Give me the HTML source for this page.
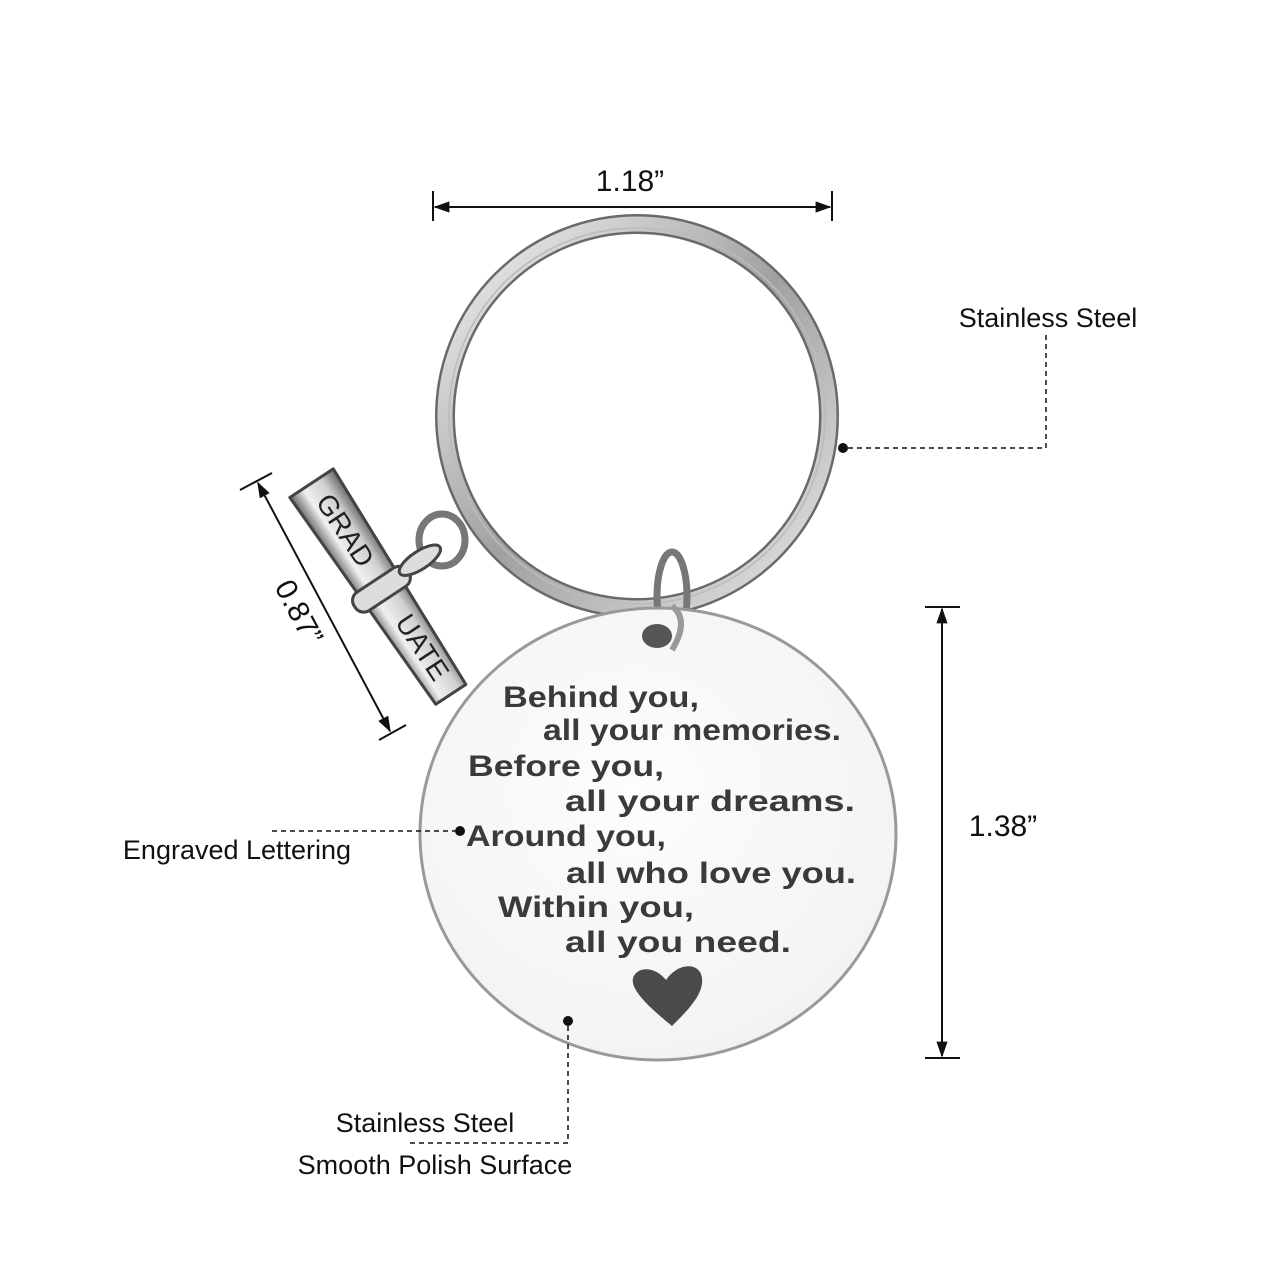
<!DOCTYPE html>
<html><head><meta charset="utf-8"><style>
html,body{margin:0;padding:0;background:#fff;}
svg{display:block;}
.lbl{font-family:"Liberation Sans",sans-serif;fill:#111;}
.eng{font-family:"Liberation Sans",sans-serif;font-weight:bold;fill:#3a3a3a;font-size:30px;}
</style></head><body>
<svg width="1280" height="1280" viewBox="0 0 1280 1280" xmlns="http://www.w3.org/2000/svg">
<defs>
<linearGradient id="ring" x1="0" y1="0" x2="1" y2="1">
<stop offset="0" stop-color="#f4f4f4"/><stop offset="0.5" stop-color="#a0a0a0"/><stop offset="1" stop-color="#e8e8e8"/>
</linearGradient>
<radialGradient id="disc" cx="0.45" cy="0.4" r="0.7">
<stop offset="0" stop-color="#fdfdfd"/><stop offset="0.85" stop-color="#f3f3f3"/><stop offset="1" stop-color="#dadada"/>
</radialGradient>
<linearGradient id="scroll" x1="0" y1="0" x2="1" y2="0">
<stop offset="0" stop-color="#666"/><stop offset="0.3" stop-color="#f0f0f0"/><stop offset="0.7" stop-color="#d0d0d0"/><stop offset="1" stop-color="#666"/>
</linearGradient>
<marker id="ar" viewBox="0 0 10 10" refX="9" refY="5" markerWidth="8" markerHeight="8" orient="auto-start-reverse"><path d="M0,1.5 L10,5 L0,8.5 z" fill="#111"/></marker>
</defs>

<!-- key ring -->
<circle cx="637" cy="416" r="192" fill="none" stroke="#6a6a6a" stroke-width="20"/>
<circle cx="637" cy="416" r="192" fill="none" stroke="url(#ring)" stroke-width="15"/>
<circle cx="637" cy="416" r="188" fill="none" stroke="#bbb" stroke-width="1.5"/>
<!-- small jump rings -->
<ellipse cx="672" cy="596" rx="15" ry="44" fill="none" stroke="#777" stroke-width="7"/>
<ellipse cx="442" cy="540" rx="23" ry="26" fill="none" stroke="#777" stroke-width="7"/>

<!-- disc -->
<ellipse cx="658" cy="834" rx="238" ry="226" fill="url(#disc)" stroke="#999" stroke-width="3"/>
<ellipse cx="657" cy="636" rx="15" ry="12" fill="#555"/>
<path d="M672 606 Q690 620 672 650" fill="none" stroke="#999" stroke-width="6"/>

<text class="eng" x="503" y="707" textLength="196" lengthAdjust="spacingAndGlyphs">Behind you,</text>
<text class="eng" x="543" y="740" textLength="298" lengthAdjust="spacingAndGlyphs">all your memories.</text>
<text class="eng" x="468" y="776" textLength="196" lengthAdjust="spacingAndGlyphs">Before you,</text>
<text class="eng" x="565" y="811" textLength="290" lengthAdjust="spacingAndGlyphs">all your  dreams.</text>
<text class="eng" x="466" y="846" textLength="200" lengthAdjust="spacingAndGlyphs">Around you,</text>
<text class="eng" x="566" y="883" textLength="290" lengthAdjust="spacingAndGlyphs">all  who love you.</text>
<text class="eng" x="498" y="917" textLength="196" lengthAdjust="spacingAndGlyphs">Within you,</text>
<text class="eng" x="565" y="952" textLength="226" lengthAdjust="spacingAndGlyphs">all you need.</text>
<path d="M672 1026 C650 1008 630 990 633 978 C637 966 655 966 666 980 C678 962 700 962 702 978 C704 994 688 1010 672 1026 Z" fill="#4a4a4a"/>

<!-- graduate scroll charm -->
<g transform="translate(382,590) rotate(-33.4)">
<path d="M-26,-128 L26,-128 L18,125 L-18,125 Z" fill="url(#scroll)" stroke="#444" stroke-width="3" stroke-linejoin="round"/>
<text x="0" y="-70" transform="rotate(90 0 -70)" text-anchor="middle" dominant-baseline="middle" font-family="Liberation Sans,sans-serif" font-size="28" fill="#222">GRAD</text>
<text x="0" y="70" transform="rotate(90 0 70)" text-anchor="middle" dominant-baseline="middle" font-family="Liberation Sans,sans-serif" font-size="28" fill="#222">UATE</text>
<rect x="-32" y="-12" width="64" height="22" rx="10" fill="#ddd" stroke="#444" stroke-width="3"/>
<ellipse cx="48" cy="-4" rx="24" ry="9" fill="#ddd" stroke="#444" stroke-width="3"/>
</g>

<!-- dimension top -->
<line x1="433" y1="191" x2="433" y2="221" stroke="#111" stroke-width="2"/>
<line x1="832" y1="191" x2="832" y2="221" stroke="#111" stroke-width="2"/>
<line x1="435" y1="207" x2="830" y2="207" stroke="#111" stroke-width="2" marker-start="url(#ar)" marker-end="url(#ar)"/>
<text class="lbl" x="630" y="191" font-size="30" text-anchor="middle">1.18”</text>

<!-- dimension right -->
<line x1="925" y1="607" x2="960" y2="607" stroke="#111" stroke-width="2"/>
<line x1="925" y1="1058" x2="960" y2="1058" stroke="#111" stroke-width="2"/>
<line x1="942" y1="609" x2="942" y2="1056" stroke="#111" stroke-width="2" marker-start="url(#ar)" marker-end="url(#ar)"/>
<text class="lbl" x="1003" y="836" font-size="30" text-anchor="middle">1.38”</text>

<!-- diagonal dimension -->
<line x1="240" y1="490" x2="272" y2="473" stroke="#111" stroke-width="2"/>
<line x1="379" y1="740" x2="406" y2="725" stroke="#111" stroke-width="2"/>
<line x1="258" y1="483" x2="390" y2="731" stroke="#111" stroke-width="2" marker-start="url(#ar)" marker-end="url(#ar)"/>
<text class="lbl" x="290" y="617" font-size="30" text-anchor="middle" transform="rotate(62 290 617)">0.87”</text>

<!-- callouts -->
<circle cx="843" cy="448" r="5" fill="#111"/>
<polyline points="848,448 1046,448 1046,334" fill="none" stroke="#111" stroke-width="1.5" stroke-dasharray="5,4"/>
<text class="lbl" x="1048" y="327" font-size="27" text-anchor="middle">Stainless Steel</text>

<circle cx="460" cy="831" r="5" fill="#111"/>
<line x1="272" y1="831" x2="455" y2="831" stroke="#111" stroke-width="1.5" stroke-dasharray="5,4"/>
<text class="lbl" x="237" y="859" font-size="27" text-anchor="middle">Engraved Lettering</text>

<circle cx="568" cy="1021" r="5" fill="#111"/>
<polyline points="568,1026 568,1143 410,1143" fill="none" stroke="#111" stroke-width="1.5" stroke-dasharray="5,4"/>
<text class="lbl" x="425" y="1132" font-size="27" text-anchor="middle">Stainless Steel</text>
<text class="lbl" x="435" y="1174" font-size="27" text-anchor="middle">Smooth Polish Surface</text>
</svg>
</body></html>
